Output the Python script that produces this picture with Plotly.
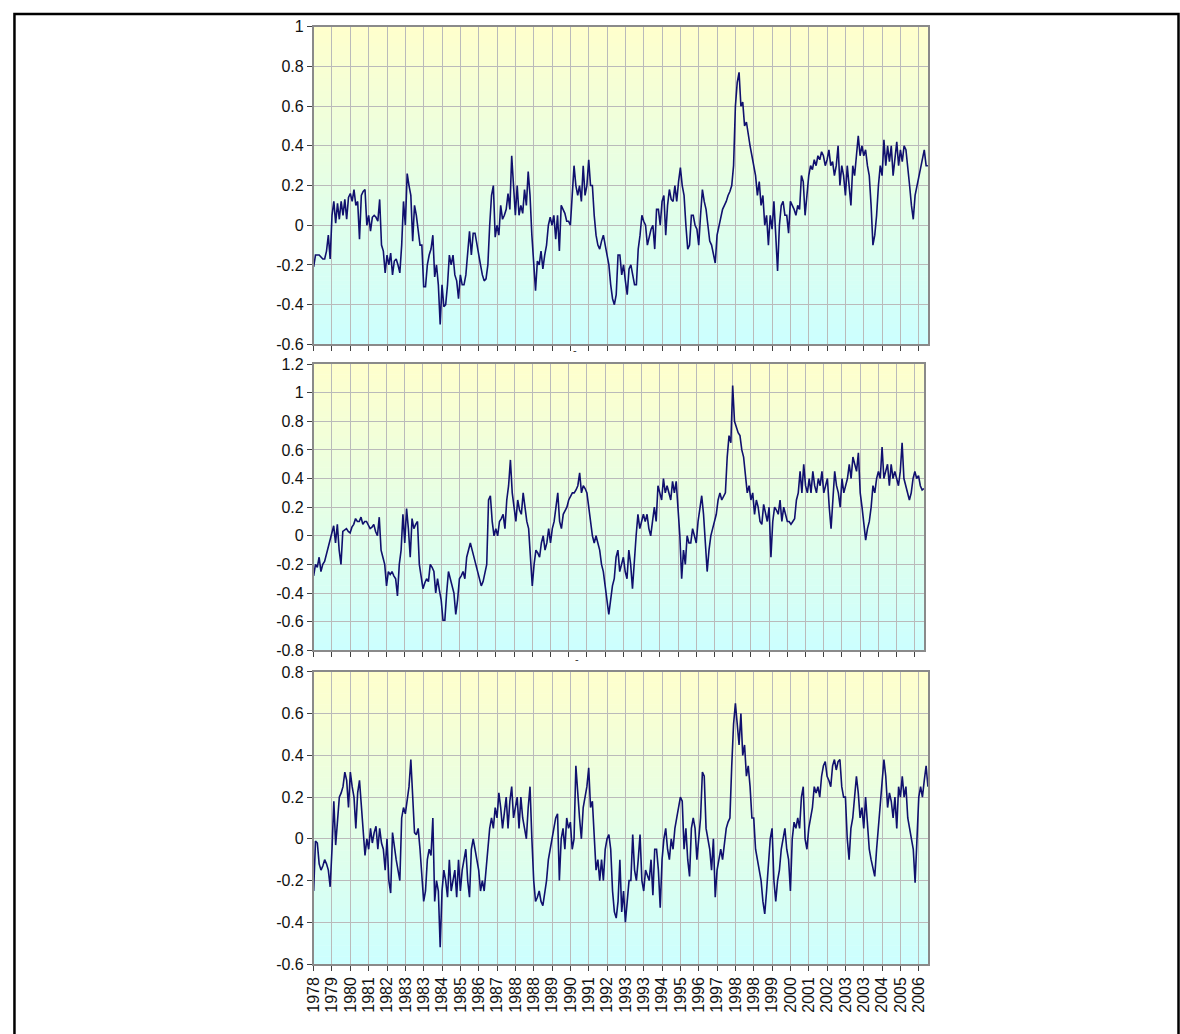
import plotly.graph_objects as go

# ---------------- data (monthly anomalies, Dec 1978 onward) ----------------
TICK_LABELS = ["1978", "1979", "1980", "1981", "1982", "1983", "1983", "1984", "1985",
               "1986", "1987", "1988", "1988", "1989", "1990", "1991", "1992", "1993",
               "1993", "1994", "1995", "1996", "1997", "1998", "1998", "1999", "2000",
               "2001", "2002", "2003", "2003", "2004", "2005", "2006"]

SERIES_TOP = [
    -0.21, -0.15, -0.15, -0.15, -0.16, -0.17, -0.17, -0.13, -0.05, -0.17,
    0.05, 0.12, 0.01, 0.11, 0.03, 0.12, 0.05, 0.13, 0.03, 0.14,
    0.16, 0.12, 0.18, 0.10, 0.12, -0.07, 0.15, 0.17, 0.18, 0.00,
    0.05, -0.03, 0.04, 0.05, 0.04, 0.02, 0.13, -0.10, -0.13, -0.24,
    -0.15, -0.20, -0.14, -0.25, -0.18, -0.17, -0.20, -0.24, -0.10, 0.12,
    0.00, 0.26, 0.20, 0.15, -0.08, 0.10, 0.05, -0.03, -0.10, -0.10,
    -0.31, -0.31, -0.20, -0.15, -0.12, -0.05, -0.26, -0.20, -0.30, -0.50,
    -0.30, -0.41, -0.40, -0.30, -0.15, -0.20, -0.15, -0.25, -0.28, -0.37,
    -0.25, -0.30, -0.30, -0.25, -0.15, -0.03, -0.15, -0.04, -0.04, -0.10,
    -0.15, -0.20, -0.25, -0.28, -0.27, -0.20, 0.00, 0.15, 0.20, -0.06,
    0.00, -0.05, 0.10, 0.03, 0.05, 0.08, 0.16, 0.08, 0.35, 0.20,
    0.05, 0.20, 0.05, 0.10, 0.06, 0.18, 0.10, 0.27, 0.15, -0.05,
    -0.20, -0.33, -0.18, -0.20, -0.13, -0.22, -0.15, -0.10, 0.00, 0.04,
    0.00, 0.05, -0.07, 0.05, -0.13, 0.10, 0.08, 0.06, 0.02, 0.02,
    0.00, 0.15, 0.30, 0.20, 0.15, 0.20, 0.12, 0.30, 0.15, 0.20,
    0.33, 0.20, 0.20, 0.05, -0.05, -0.10, -0.12, -0.08, -0.05, -0.10,
    -0.15, -0.20, -0.30, -0.37, -0.40, -0.35, -0.15, -0.15, -0.25, -0.20,
    -0.28, -0.35, -0.22, -0.20, -0.25, -0.30, -0.30, -0.12, -0.05, 0.05,
    0.02, 0.00, -0.10, -0.05, -0.02, 0.00, -0.12, 0.08, 0.08, 0.00,
    0.12, 0.15, -0.05, 0.10, 0.18, 0.13, 0.12, 0.20, 0.12, 0.22,
    0.29, 0.20, 0.15, 0.00, -0.12, -0.10, 0.05, 0.05, 0.00, -0.02,
    -0.10, 0.05, 0.18, 0.12, 0.08, 0.00, -0.08, -0.10, -0.15, -0.19,
    -0.05, 0.00, 0.05, 0.08, 0.10, 0.12, 0.15, 0.17, 0.20, 0.30,
    0.60, 0.72, 0.77, 0.60, 0.62, 0.50, 0.52, 0.45, 0.40, 0.35,
    0.30, 0.25, 0.15, 0.22, 0.10, 0.15, 0.00, 0.05, -0.10, 0.05,
    -0.02, 0.12, -0.05, -0.23, 0.00, 0.10, 0.12, 0.05, 0.05, -0.04,
    0.12, 0.10, 0.08, 0.05, 0.10, 0.08, 0.25, 0.22, 0.05, 0.15,
    0.25, 0.30, 0.28, 0.33, 0.30, 0.35, 0.33, 0.37, 0.35, 0.30,
    0.33, 0.38, 0.30, 0.32, 0.25, 0.30, 0.40, 0.20, 0.30, 0.25,
    0.15, 0.30, 0.20, 0.10, 0.30, 0.25, 0.35, 0.45, 0.35, 0.40,
    0.35, 0.38, 0.30, 0.25, 0.10, -0.10, -0.05, 0.05, 0.20, 0.30,
    0.25, 0.43, 0.30, 0.40, 0.32, 0.40, 0.25, 0.35, 0.42, 0.30,
    0.38, 0.32, 0.40, 0.38, 0.30, 0.20, 0.10, 0.03, 0.15, 0.20,
    0.25, 0.28, 0.35, 0.38, 0.30, 0.30,
]

SERIES_MIDDLE = [
    -0.28, -0.20, -0.22, -0.15, -0.25, -0.20, -0.18, -0.13, -0.10, -0.05,
    0.00, 0.07, -0.05, 0.08, -0.10, -0.20, 0.03, 0.04, 0.05, 0.03,
    0.02, 0.06, 0.08, 0.12, 0.10, 0.10, 0.13, 0.08, 0.10, 0.10,
    0.07, 0.05, 0.06, 0.08, 0.03, 0.00, 0.13, -0.10, -0.15, -0.20,
    -0.35, -0.25, -0.27, -0.25, -0.28, -0.30, -0.42, -0.20, -0.10, 0.15,
    -0.05, 0.19, 0.05, -0.15, 0.12, 0.05, 0.08, 0.10, -0.20, -0.30,
    -0.37, -0.33, -0.30, -0.32, -0.20, -0.22, -0.25, -0.40, -0.30, -0.38,
    -0.45, -0.59, -0.59, -0.40, -0.25, -0.30, -0.35, -0.40, -0.55, -0.45,
    -0.30, -0.28, -0.25, -0.30, -0.15, -0.10, -0.05, -0.10, -0.15, -0.20,
    -0.25, -0.30, -0.35, -0.32, -0.25, -0.20, 0.25, 0.28, 0.10, 0.00,
    0.05, 0.00, 0.10, 0.12, 0.15, 0.05, 0.25, 0.35, 0.53, 0.30,
    0.20, 0.10, 0.25, 0.18, 0.15, 0.30, 0.20, 0.10, 0.05, -0.15,
    -0.35, -0.20, -0.10, -0.12, -0.15, -0.05, 0.00, -0.10, -0.05, 0.05,
    -0.05, 0.05, 0.10, 0.20, 0.30, 0.10, 0.05, 0.15, 0.18, 0.20,
    0.25, 0.28, 0.30, 0.30, 0.32, 0.35, 0.44, 0.30, 0.35, 0.33,
    0.30, 0.20, 0.10, 0.00, -0.05, 0.00, -0.05, -0.10, -0.20, -0.25,
    -0.35, -0.45, -0.55, -0.45, -0.35, -0.30, -0.15, -0.10, -0.25, -0.20,
    -0.15, -0.25, -0.30, -0.10, -0.20, -0.37, -0.15, 0.00, 0.15, 0.05,
    0.10, 0.15, 0.10, 0.15, 0.05, 0.00, 0.10, 0.20, 0.10, 0.35,
    0.30, 0.25, 0.40, 0.30, 0.35, 0.30, 0.25, 0.38, 0.30, 0.38,
    0.20, 0.00, -0.30, -0.10, -0.20, 0.00, -0.05, -0.05, 0.05, 0.00,
    -0.05, 0.10, 0.20, 0.28, 0.15, -0.10, -0.25, -0.10, 0.00, 0.05,
    0.10, 0.15, 0.25, 0.30, 0.25, 0.28, 0.30, 0.55, 0.70, 0.65,
    1.05, 0.80, 0.75, 0.72, 0.70, 0.60, 0.55, 0.40, 0.30, 0.35,
    0.25, 0.30, 0.15, 0.25, 0.20, 0.10, 0.08, 0.22, 0.15, 0.10,
    0.20, -0.15, 0.10, 0.20, 0.18, 0.15, 0.25, 0.10, 0.20, 0.15,
    0.10, 0.10, 0.08, 0.10, 0.12, 0.25, 0.30, 0.45, 0.30, 0.50,
    0.35, 0.30, 0.40, 0.30, 0.45, 0.35, 0.30, 0.40, 0.35, 0.45,
    0.30, 0.35, 0.40, 0.20, 0.05, 0.25, 0.45, 0.35, 0.30, 0.20,
    0.40, 0.30, 0.35, 0.40, 0.50, 0.40, 0.55, 0.50, 0.45, 0.58,
    0.30, 0.20, 0.10, -0.03, 0.05, 0.10, 0.20, 0.35, 0.30, 0.40,
    0.45, 0.40, 0.62, 0.40, 0.45, 0.50, 0.35, 0.50, 0.40, 0.45,
    0.40, 0.35, 0.45, 0.65, 0.40, 0.35, 0.30, 0.25, 0.30, 0.40,
    0.45, 0.40, 0.42, 0.35, 0.32, 0.33,
]

SERIES_BOTTOM = [
    -0.25, -0.01, -0.02, -0.12, -0.15, -0.13, -0.10, -0.12, -0.15, -0.23,
    -0.05, 0.18, -0.03, 0.10, 0.20, 0.22, 0.25, 0.32, 0.28, 0.15,
    0.32, 0.25, 0.20, 0.05, 0.22, 0.28, 0.15, 0.05, -0.08, 0.00,
    -0.05, 0.05, -0.02, 0.03, 0.06, -0.05, 0.05, -0.02, -0.05, -0.15,
    0.00, -0.20, -0.26, 0.03, -0.05, -0.10, -0.15, -0.20, 0.10, 0.15,
    0.12, 0.18, 0.25, 0.38, 0.20, 0.03, 0.02, 0.05, -0.05, -0.20,
    -0.30, -0.25, -0.10, -0.05, -0.08, 0.10, -0.30, -0.20, -0.25, -0.52,
    -0.25, -0.15, -0.20, -0.28, -0.10, -0.25, -0.20, -0.15, -0.28, -0.10,
    -0.25, -0.15, -0.10, -0.05, -0.20, -0.28, -0.05, 0.00, -0.05, -0.10,
    -0.15, -0.25, -0.20, -0.25, -0.15, -0.05, 0.05, 0.10, 0.05, 0.15,
    0.10, 0.22, 0.15, 0.05, 0.12, 0.20, 0.05, 0.18, 0.25, 0.10,
    0.15, 0.20, 0.05, 0.20, 0.10, 0.05, 0.00, 0.15, 0.25, 0.00,
    -0.20, -0.30, -0.28, -0.25, -0.30, -0.32, -0.25, -0.20, -0.10, -0.05,
    0.00, 0.05, 0.10, 0.12, -0.20, 0.00, 0.05, -0.05, 0.10, 0.05,
    0.08, -0.05, 0.00, 0.35, 0.20, 0.10, 0.00, 0.15, 0.20, 0.25,
    0.34, 0.15, 0.18, 0.00, -0.15, -0.10, -0.20, -0.10, -0.20, -0.05,
    0.00, 0.02, -0.05, -0.25, -0.35, -0.38, -0.30, -0.10, -0.35, -0.25,
    -0.40, -0.30, -0.20, -0.20, 0.02, -0.15, -0.20, -0.10, 0.02, -0.20,
    -0.25, -0.15, -0.18, -0.20, -0.10, -0.27, -0.05, -0.05, -0.15, -0.33,
    -0.10, 0.00, 0.05, -0.05, -0.10, 0.00, -0.05, 0.05, 0.10, 0.15,
    0.20, 0.18, -0.05, 0.05, -0.10, -0.18, 0.05, 0.10, 0.05, -0.10,
    0.00, 0.10, 0.32, 0.30, 0.05, 0.00, -0.05, -0.15, 0.00, -0.28,
    -0.15, -0.10, -0.05, -0.10, -0.02, 0.05, 0.08, 0.10, 0.35, 0.55,
    0.65, 0.55, 0.45, 0.60, 0.40, 0.45, 0.30, 0.35, 0.25, 0.10,
    0.10, -0.05, -0.10, -0.15, -0.20, -0.30, -0.36, -0.25, -0.10, 0.00,
    0.05, -0.20, -0.30, -0.20, -0.15, -0.05, 0.00, 0.05, -0.05, -0.10,
    -0.25, 0.00, 0.08, 0.05, 0.10, 0.05, 0.20, 0.25, 0.00, -0.05,
    0.05, 0.10, 0.15, 0.25, 0.22, 0.25, 0.20, 0.30, 0.35, 0.37,
    0.30, 0.28, 0.25, 0.35, 0.38, 0.33, 0.37, 0.38, 0.25, 0.20,
    0.20, 0.00, -0.10, 0.05, 0.10, 0.20, 0.30, 0.22, 0.10, 0.15,
    0.05, 0.20, 0.05, -0.05, -0.10, -0.15, -0.18, -0.05, 0.05, 0.15,
    0.25, 0.38, 0.30, 0.15, 0.22, 0.18, 0.10, 0.20, 0.05, 0.25,
    0.20, 0.30, 0.20, 0.25, 0.10, 0.05, 0.00, -0.05, -0.21, 0.00,
    0.20, 0.25, 0.20, 0.28, 0.35, 0.25,
]

Y_TICKS_TOP = [-0.6, -0.4, -0.2, 0, 0.2, 0.4, 0.6, 0.8, 1]
Y_LABELS_TOP = ["-0.6", "-0.4", "-0.2", "0", "0.2", "0.4", "0.6", "0.8", "1"]
Y_TICKS_MIDDLE = [-0.8, -0.6, -0.4, -0.2, 0, 0.2, 0.4, 0.6, 0.8, 1, 1.2]
Y_LABELS_MIDDLE = ["-0.8", "-0.6", "-0.4", "-0.2", "0", "0.2", "0.4", "0.6", "0.8", "1", "1.2"]
Y_TICKS_BOTTOM = [-0.6, -0.4, -0.2, 0, 0.2, 0.4, 0.6, 0.8]
Y_LABELS_BOTTOM = ["-0.6", "-0.4", "-0.2", "0", "0.2", "0.4", "0.6", "0.8"]

# ---------------- layout geometry ----------------
W, H = 1180, 1034
FONT = "Liberation Sans, Arial, sans-serif"
LINE_COLOR = "#10106e"
GRID = "#bababa"
BORDER = "#8a8a8a"

panels = [
    dict(data=SERIES_TOP, ticks=Y_TICKS_TOP, labels=Y_LABELS_TOP,
         px=(307, 926), py=(19, 342), showx=False),
    dict(data=SERIES_MIDDLE, ticks=Y_TICKS_MIDDLE, labels=Y_LABELS_MIDDLE,
         px=(307, 922), py=(362, 653), showx=False),
    dict(data=SERIES_BOTTOM, ticks=Y_TICKS_BOTTOM, labels=Y_LABELS_BOTTOM,
         px=(307, 926), py=(675, 972), showx=True),
]

n_x = max(len(p["data"]) for p in panels)
tick_pos = [10 * i for i in range(len(TICK_LABELS))]

fig = go.Figure()
shapes = []
layout_axes = {}

top_rgb = (255, 255, 204)
bot_rgb = (204, 255, 255)
NB = 80

for i, p in enumerate(panels, start=1):
    xa = "x" if i == 1 else f"x{i}"
    ya = "y" if i == 1 else f"y{i}"
    xkey = "xaxis" if i == 1 else f"xaxis{i}"
    ykey = "yaxis" if i == 1 else f"yaxis{i}"

    fig.add_trace(go.Scatter(
        x=list(range(len(p["data"]))), y=p["data"], mode="lines",
        line=dict(color=LINE_COLOR, width=1.6), xaxis=xa, yaxis=ya,
        showlegend=False, hoverinfo="skip"))

    # gradient background (yellow top -> cyan bottom)
    for b in range(NB):
        t = (b + 0.5) / NB
        c = tuple(int(round(bot_rgb[k] + (top_rgb[k] - bot_rgb[k]) * t)) for k in range(3))
        shapes.append(dict(type="rect", xref=f"{xa} domain", yref=f"{ya} domain",
                           x0=0, x1=1, y0=b / NB, y1=(b + 1) / NB + 0.002,
                           fillcolor="rgb(%d,%d,%d)" % c, line=dict(width=0),
                           layer="below"))

    layout_axes[xkey] = dict(
        domain=[p["px"][0] / W, p["px"][1] / W], anchor=ya,
        range=[0, n_x - 1], tickmode="array", tickvals=tick_pos,
        ticktext=TICK_LABELS if p["showx"] else [""] * len(tick_pos),
        showticklabels=p["showx"], tickangle=-90,
        ticks="outside", ticklen=5, tickcolor="#404040", tickwidth=1,
        showgrid=True, gridcolor=GRID, gridwidth=1, zeroline=False,
        showline=True, linecolor=BORDER, linewidth=1.5, mirror=True,
        tickfont=dict(family=FONT, size=16, color="#111111"),
        fixedrange=True)
    layout_axes[ykey] = dict(
        domain=[1 - p["py"][1] / H, 1 - p["py"][0] / H], anchor=xa,
        range=[p["ticks"][0], p["ticks"][-1]], tickmode="array",
        tickvals=p["ticks"], ticktext=p["labels"],
        ticks="outside", ticklen=5, tickcolor="#404040", tickwidth=1,
        showgrid=True, gridcolor=GRID, gridwidth=1, zeroline=False,
        showline=True, linecolor=BORDER, linewidth=1.5, mirror=True,
        tickfont=dict(family=FONT, size=16, color="#111111"),
        fixedrange=True)

# outer frame of the image
shapes.append(dict(type="rect", xref="paper", yref="paper",
                   x0=5.5 / W, x1=1178.5 / W, y0=-0.05, y1=1 - 6 / H,
                   line=dict(color="black", width=2.5), fillcolor="rgba(0,0,0,0)",
                   layer="above"))

annotations = [
    dict(text="-", xref="paper", yref="paper", x=570 / W, y=1 - 348 / H,
         showarrow=False, font=dict(family=FONT, size=11, color="#333333")),
    dict(text="-", xref="paper", yref="paper", x=572 / W, y=1 - 662 / H,
         showarrow=False, font=dict(family=FONT, size=11, color="#333333")),
]

fig.update_layout(
    width=W, height=H, autosize=False,
    margin=dict(l=0, r=0, t=0, b=0, pad=0),
    paper_bgcolor="white", plot_bgcolor="white",
    font=dict(family=FONT, size=16, color="#111111"),
    shapes=shapes, annotations=annotations, showlegend=False,
    **layout_axes)

fig.write_html("out.html")
